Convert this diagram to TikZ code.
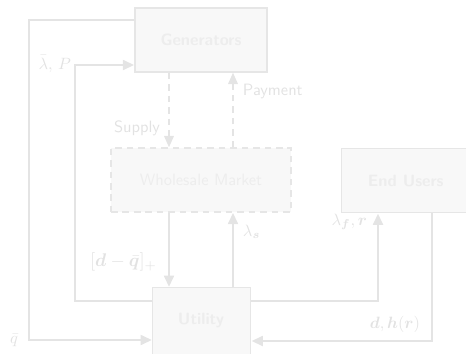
\documentclass[tikz,border=0pt]{standalone}
\usepackage{amsmath,bm}
\usetikzlibrary{arrows.meta}
\renewcommand{\familydefault}{\sfdefault}
\definecolor{boxfill}{HTML}{F8F8F8}
\definecolor{boxline}{HTML}{E6E6E6}
\definecolor{flow}{HTML}{E4E4E4}
\definecolor{boxtext}{HTML}{EDEDED}
\definecolor{labtext}{HTML}{E2E2E2}
\begin{document}
\begin{tikzpicture}[x=0.61pt,y=-0.61pt,
  agent/.style={draw=boxline,fill=boxfill,line width=0.9pt,text=boxtext,font=\bfseries,inner sep=0pt},
  market/.style={agent,dashed,dash pattern=on 4pt off 3pt},
  flowline/.style={draw=flow,line width=1.6pt,-{Triangle[length=7pt,width=6pt]}},
  dflow/.style={flowline,line width=1pt,dash pattern=on 4pt off 3pt},
  lab/.style={text=labtext,inner sep=1pt}]
\useasboundingbox (0,0) rectangle (466,353);
% agents
\node[agent,minimum width=132*0.61pt,minimum height=64*0.61pt] (gen) at (201,40) {Generators};
\node[market,minimum width=180*0.61pt,minimum height=64*0.61pt] (wm) at (201,180) {\mdseries Wholesale Market};
\node[agent,minimum width=128*0.61pt,minimum height=64*0.61pt,anchor=north west] (eu) at (341,148) {End Users};
\node[agent,minimum width=98*0.61pt,minimum height=70*0.61pt,anchor=north west] (ut) at (152,287) {};
\node[text=boxtext,font=\bfseries] (utl) at (201,320) {Utility};
% coordinates of the corner points
\coordinate (o1) at (29,20);
\coordinate (o2) at (29,340);
\coordinate (i1) at (75,301);
\coordinate (i2) at (75,65);
\coordinate (r1) at (378,301);
\coordinate (e1) at (432,341);
% outer feedback loop
\draw[flowline] (gen.west |- o1) -- (o1) -- (o2) -- (ut.west |- o2);
\node[lab,anchor=east] (qb) at (20,340) {$\bar q$};
% inner feedback loop
\draw[flowline] (ut.west |- i1) -- (i1) -- (i2) -- (gen.west |- i2);
\node[lab,anchor=east] (lp) at (73,64) {$\bar\lambda,\,P$};
% generators and market
\draw[dflow] (gen.south -| 169,0) -- (wm.north -| 169,0);
\node[lab,anchor=east] (sup) at (162,128) {Supply};
\draw[dflow] (wm.north -| 233,0) -- (gen.south -| 233,0);
\node[lab,anchor=west] (pay) at (241,91) {Payment};
% market and utility
\draw[flowline] (wm.south -| 169,0) -- (ut.north -| 169,0);
\node[lab,anchor=east,scale=1.12] (dq) at (159,262) {$[\bm d-\bar{\bm q}]_+$};
\draw[flowline] (ut.north -| 233,0) -- (wm.south -| 233,0);
\node[lab,anchor=west] (ls) at (241,232) {$\lambda_{\bm s}$};
% utility and end users
\draw[flowline] (ut.east |- r1) -- (r1) -- (eu.south -| r1);
\node[lab,anchor=east] (lf) at (369,222) {$\lambda_{\bm f},\bm r$};
\draw[flowline] (eu.south -| e1) -- (e1) -- (ut.east |- e1);
\node[lab,anchor=east] (dh) at (422,324) {$\bm d,\bm h(\bm r)$};
\end{tikzpicture}
\end{document}
